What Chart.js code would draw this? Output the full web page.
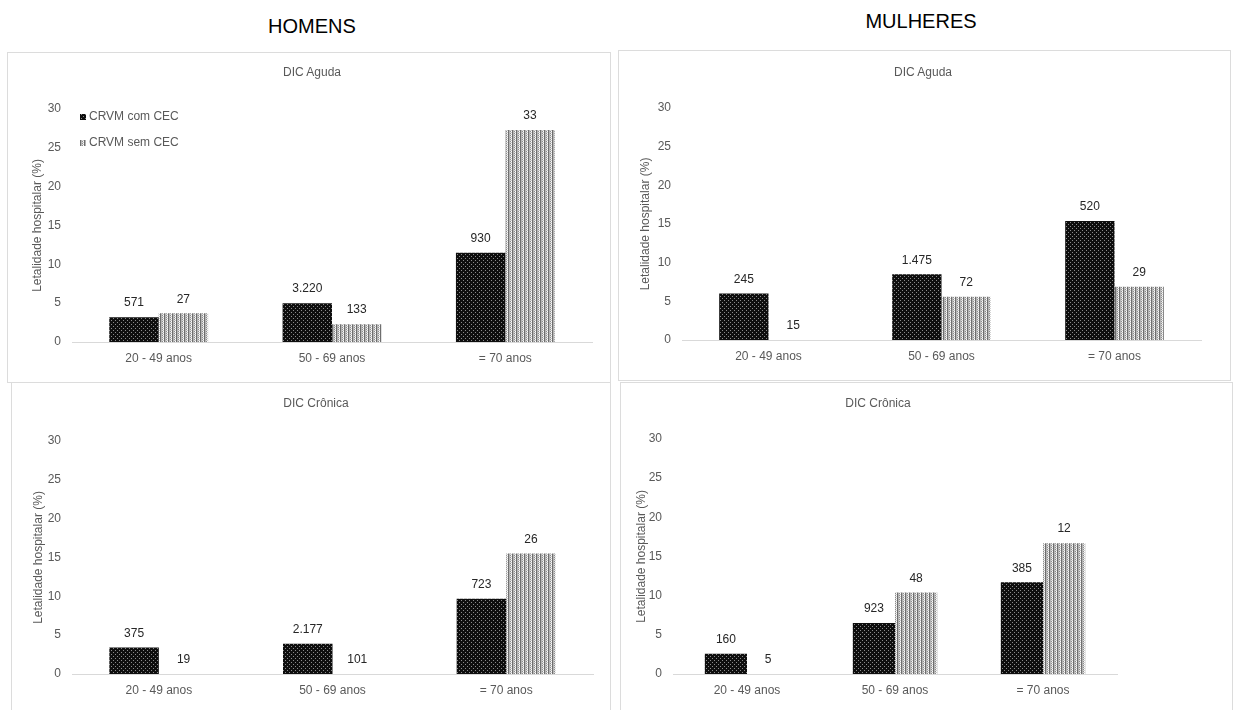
<!DOCTYPE html>
<html>
<head>
<meta charset="utf-8">
<script src="https://cdn.jsdelivr.net/npm/chart.js@4.4.1/dist/chart.umd.min.js"></script>
<style>
  html, body { margin: 0; padding: 0; background: #fff; }
  body { width: 1233px; height: 710px; position: relative; overflow: hidden;
         font-family: 'Liberation Sans Narrow', 'Liberation Sans', Arial, sans-serif; }
  .hdr { position: absolute; font-size: 20px; color: #000; transform: translate(-50%, -50%); white-space: nowrap; }
  .panel { position: absolute; border: 1px solid #dcdcdc; box-sizing: border-box; }
  .panel canvas { position: absolute; left: 0; top: 0; }
  .ttl { position: absolute; font-size: 12px; color: #595959; transform: translate(-50%, -50%); white-space: nowrap; }
</style>
</head>
<body>
<div class="hdr" style="left:312px; top:26px;">HOMENS</div>
<div class="hdr" style="left:921px; top:21px;">MULHERES</div>

<div class="panel" id="p1" style="left:7px; top:52px; width:604px; height:331px;"><canvas id="c1"></canvas></div>
<div class="panel" id="p2" style="left:618px; top:50px; width:613px; height:331px;"><canvas id="c2"></canvas></div>
<div class="panel" id="p3" style="left:11px; top:382px; width:600px; height:340px;"><canvas id="c3"></canvas></div>
<div class="panel" id="p4" style="left:620px; top:382px; width:613px; height:340px;"><canvas id="c4"></canvas></div>

<div class="ttl" style="left:312px; top:72px;">DIC Aguda</div>
<div class="ttl" style="left:923px; top:72px;">DIC Aguda</div>
<div class="ttl" style="left:316px; top:403px;">DIC Crônica</div>
<div class="ttl" style="left:878px; top:403px;">DIC Crônica</div>

<script>
// ---- DATA ----
const categories = ['20 - 49 anos', '50 - 69 anos', '= 70 anos'];
const seriesNames = ['CRVM com CEC', 'CRVM sem CEC'];
const yTicks = [0, 5, 10, 15, 20, 25, 30];

const homensAgudaCom = [3.2, 5.0, 11.5];
const homensAgudaSem = [3.7, 2.3, 27.3];
const homensAgudaComN = ['571', '3.220', '930'];
const homensAgudaSemN = ['27', '133', '33'];

const mulheresAgudaCom = [6.0, 8.5, 15.4];
const mulheresAgudaSem = [0, 5.6, 6.9];
const mulheresAgudaComN = ['245', '1.475', '520'];
const mulheresAgudaSemN = ['15', '72', '29'];

const homensCronicaCom = [3.4, 3.9, 9.7];
const homensCronicaSem = [0, 0, 15.5];
const homensCronicaComN = ['375', '2.177', '723'];
const homensCronicaSemN = ['19', '101', '26'];

const mulheresCronicaCom = [2.6, 6.5, 11.7];
const mulheresCronicaSem = [0, 10.4, 16.7];
const mulheresCronicaComN = ['160', '923', '385'];
const mulheresCronicaSemN = ['5', '48', '12'];

// ---- PATTERNS ----
function makeDarkPattern() {
  const c = document.createElement('canvas'); c.width = 4; c.height = 4;
  const g = c.getContext('2d');
  g.fillStyle = '#0e0e0e'; g.fillRect(0, 0, 4, 4);
  g.fillStyle = '#8a8a8a'; g.fillRect(1, 1, 1, 1); g.fillRect(3, 3, 1, 1);
  return g.createPattern(c, 'repeat');
}
function makeLightPattern() {
  const c = document.createElement('canvas'); c.width = 4; c.height = 2;
  const g = c.getContext('2d');
  g.fillStyle = '#ffffff'; g.fillRect(0, 0, 4, 2);
  g.fillStyle = '#6e6e6e'; g.fillRect(0, 0, 1, 2);
  g.fillStyle = '#b4b4b4'; g.fillRect(1, 0, 1, 2);
  g.fillStyle = '#8c8c8c'; g.fillRect(2, 0, 1, 1);
  g.fillStyle = '#dcdcdc'; g.fillRect(2, 1, 1, 1);
  g.fillStyle = '#c8c8c8'; g.fillRect(3, 1, 1, 1);
  return g.createPattern(c, 'repeat');
}
const darkFill = makeDarkPattern();
const lightFill = makeLightPattern();

const FONT = "'Liberation Sans Narrow', 'Liberation Sans', Arial, sans-serif";

// data labels plugin
const nLabels = {
  id: 'nLabels',
  afterDatasetsDraw(chart) {
    const ctx = chart.ctx;
    const labels = chart.options.plugins.nLabels.labels;
    ctx.save();
    ctx.font = '12px ' + FONT;
    ctx.fillStyle = '#262626';
    ctx.textAlign = 'center';
    ctx.textBaseline = 'middle';
    chart.data.datasets.forEach((ds, di) => {
      const meta = chart.getDatasetMeta(di);
      meta.data.forEach((bar, i) => {
        ctx.fillText(labels[di][i], bar.x, bar.y - 14);
      });
    });
    ctx.restore();
  }
};

// custom legend plugin (only used on first chart)
const boxLegend = {
  id: 'boxLegend',
  afterDraw(chart) {
    const o = chart.options.plugins.boxLegend;
    if (!o || !o.show) return;
    const ctx = chart.ctx;
    ctx.save();
    ctx.font = '12px ' + FONT;
    ctx.textBaseline = 'middle';
    chart.data.datasets.forEach((ds, di) => {
      const y = o.y + di * o.gap;
      ctx.fillStyle = ds.backgroundColor;
      ctx.fillRect(o.x, y - 3, 6, 6);
      ctx.fillStyle = '#595959';
      ctx.fillText(ds.label, o.x + 9, y);
    });
    ctx.restore();
  }
};

function makeChart(id, w, h, com, sem, comN, semN, L, R, T, B, titlePad, legend) {
  const cv = document.getElementById(id);
  cv.width = w; cv.height = h;
  cv.style.width = w + 'px'; cv.style.height = h + 'px';
  return new Chart(cv, {
    type: 'bar',
    data: {
      labels: categories,
      datasets: [
        { label: seriesNames[0], data: com, backgroundColor: darkFill, borderColor: '#000', borderWidth: 0,
          categoryPercentage: 0.57, barPercentage: 1.0 },
        { label: seriesNames[1], data: sem, backgroundColor: lightFill, borderWidth: 0,
          categoryPercentage: 0.57, barPercentage: 1.0 }
      ]
    },
    options: {
      responsive: false,
      animation: false,
      devicePixelRatio: 1,
      layout: { padding: { left: 0, right: R, top: T, bottom: 0 } },
      plugins: {
        legend: { display: false },
        title: { display: false },
        tooltip: { enabled: false },
        nLabels: { labels: [comN, semN] },
        boxLegend: legend || { show: false }
      },
      scales: {
        x: {
          grid: { display: false, drawTicks: false },
          border: { display: true, color: '#d9d9d9', width: 1 },
          ticks: { color: '#595959', font: { family: FONT, size: 12 }, padding: 9 },
          afterFit(s) { s.height = B; }
        },
        y: {
          min: 0, max: 30,
          afterBuildTicks(s) { s.ticks = yTicks.map(v => ({ value: v })); },
          grid: { display: false, drawTicks: false },
          border: { display: false },
          ticks: { color: '#595959', font: { family: FONT, size: 12 }, padding: 11 },
          title: { display: true, text: 'Letalidade hospitalar (%)', color: '#595959',
                   font: { family: FONT, size: 12 }, padding: { top: titlePad, bottom: 0 } },
          afterFit(s) { s.width = L; }
        }
      }
    },
    plugins: [nLabels, boxLegend]
  });
}

// panel 1: homens aguda. chart area x 72..592, y 109..342 (page)
makeChart('c1', 602, 329, homensAgudaCom, homensAgudaSem, homensAgudaComN, homensAgudaSemN,
  64, 18, 56, 40, 22, { show: true, x: 72, y: 64, gap: 26 });
// panel 2: mulheres aguda. x 682..1201, y 108..342
makeChart('c2', 611, 329, mulheresAgudaCom, mulheresAgudaSem, mulheresAgudaComN, mulheresAgudaSemN,
  63, 29, 57, 40, 19);
// panel 3: homens cronica. x 72..592, y 441..673
makeChart('c3', 598, 338, homensCronicaCom, homensCronicaSem, homensCronicaComN, homensCronicaSemN,
  60, 17, 58, 47, 19);
// panel 4: mulheres cronica. x 673..1117, y 439..673
makeChart('c4', 611, 338, mulheresCronicaCom, mulheresCronicaSem, mulheresCronicaComN, mulheresCronicaSemN,
  52, 115, 56, 47, 13);
</script>
</body>
</html>
